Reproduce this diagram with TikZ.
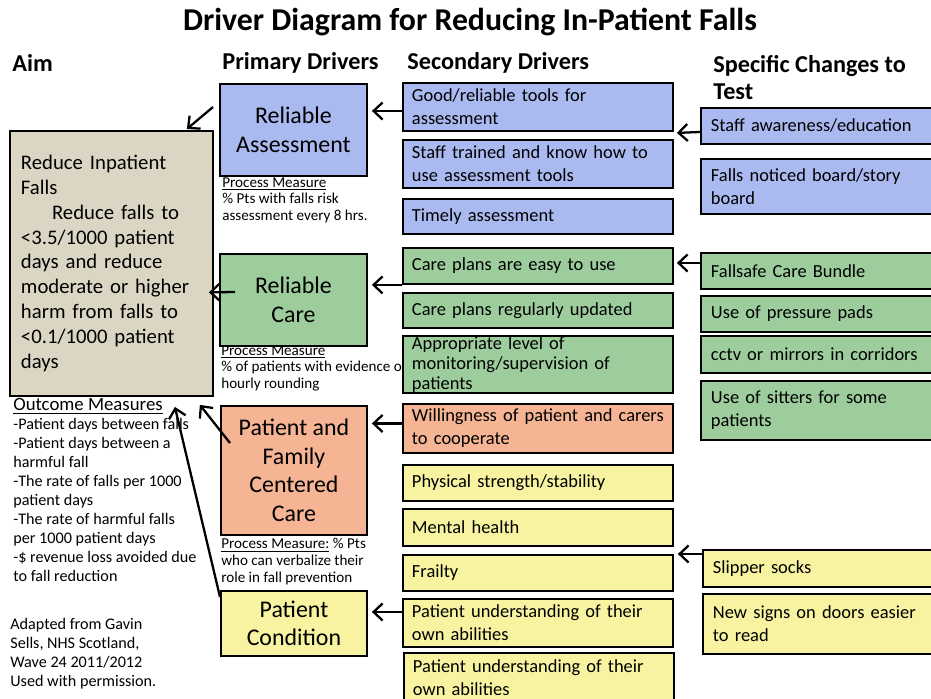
\documentclass[tikz,border=0pt]{standalone}
\usepackage{fontspec}
\setmainfont{Carlito}
\usepackage{tikz}
\usetikzlibrary{arrows.meta, positioning, calc}
\definecolor{fallblue}{RGB}{170,186,240}
\definecolor{fallgreen}{RGB}{157,205,157}
\definecolor{fallorange}{RGB}{245,180,148}
\definecolor{fallyellow}{RGB}{247,243,160}
\definecolor{fallbeige}{RGB}{219,214,196}

\tikzset{
  box/.style={draw, line width=1.1pt, anchor=north west, inner sep=0pt},
  primbox/.style={box, minimum width=2.94cm, align=center, font=\fontsize{13.6}{16.2}\selectfont},
  secbox/.style={box, minimum width=5.4cm, text width=5.04cm, inner xsep=0.18cm, align=left, font=\fontsize{10.5}{13}\selectfont},
  chgbox/.style={box, minimum width=4.8cm, text width=4.4cm, inner xsep=0.2cm, align=left, font=\fontsize{10.5}{13}\selectfont},
  measure/.style={anchor=north west, inner sep=0pt, align=left, font=\fontsize{8.6}{9.6}\selectfont},
  outcome/.style={measure, font=\fontsize{9.2}{10.8}\selectfont},
  head/.style={anchor=west, inner sep=0pt, font=\bfseries\fontsize{13.8}{15.3}\selectfont},
  arr/.style={-{Straight Barb[length=1.8mm,width=3.4mm]}, line width=1.3pt},
}

\begin{document}
\begin{tikzpicture}[x=0.02cm, y=-0.02cm]
\useasboundingbox (0,0) rectangle (931,698);
\clip (0,0) rectangle (931,698);

% Title and column heads
\node[font=\bfseries\fontsize{18.1}{22}\selectfont] (title) at (470,22) {Driver Diagram for Reducing In-Patient Falls};
\node[head] (haim) at (12,63) {Aim};
\node[head] (hprim) at (222,63) {Primary Drivers};
\node[head] (hsec) at (407,63) {Secondary Drivers};
\node[head, anchor=north west, align=left] (hchg) at (713,55) {Specific Changes to\\Test};

% Aim
\node[box, fill=fallbeige, minimum width=4.06cm, minimum height=5.3cm, text width=3.62cm, inner xsep=0.22cm, align=left, font=\fontsize{11.8}{14.2}\selectfont] (aim) at (9,130)
  {Reduce Inpatient\\Falls\\\hspace*{1.5em}Reduce falls to\\<3.5/1000 patient\\days and reduce\\moderate or higher\\harm from falls to\\<0.1/1000 patient\\days};

% Primary drivers
\node[primbox, fill=fallblue, minimum height=1.84cm] (ra) at (219,83) {Reliable\\Assessment};
\node[primbox, fill=fallgreen, minimum height=1.84cm] (rc) at (219,253) {Reliable\\Care};
\node[primbox, fill=fallorange, minimum width=2.92cm, minimum height=2.58cm] (pf) at (220,405) {Patient and\\Family\\Centered\\Care};
\node[primbox, fill=fallyellow, minimum width=2.92cm, minimum height=1.3cm] (pc) at (220,590) {Patient\\Condition};

% Measures
\node[measure] (ram) at (222,177) {\underline{Process Measure}\\\% Pts with falls risk\\assessment every 8 hrs.};
\node[measure] (rcm) at (221,345) {\underline{Process Measure}\\\% of patients with evidence of\\hourly rounding};
\node[measure] (pfm) at (221,538) {\underline{Process Measure:} \% Pts\\who can verbalize their\\role in fall prevention};
\node[outcome] (out) at (13,398)
  {{\fontsize{10.7}{11}\selectfont\underline{Outcome Measures}}\\-Patient days between falls\\-Patient days between a\\harmful fall\\-The rate of falls per 1000\\patient days\\-The rate of harmful falls\\per 1000 patient days\\-\$ revenue loss avoided due\\to fall reduction};
\node[outcome] (src) at (10,618) {Adapted from Gavin\\Sells, NHS Scotland,\\Wave 24 2011/2012\\Used with permission.};

% Secondary drivers
\node[secbox, fill=fallblue, minimum height=0.96cm] (s1) at (402,82) {Good/reliable tools for\\assessment};
\node[secbox, fill=fallblue, minimum height=0.96cm] (s2) at (402,139) {Staff trained and know how to\\use assessment tools};
\node[secbox, fill=fallblue, minimum height=0.7cm] (s3) at (402,198) {Timely assessment};
\node[secbox, fill=fallgreen, minimum height=0.72cm] (s4) at (402,247) {Care plans are easy to use};
\node[secbox, fill=fallgreen, minimum height=0.7cm] (s5) at (402,292) {Care plans regularly updated};
\node[secbox, fill=fallgreen, minimum height=1.14cm] (s6) at (402,335) {};
\node[secbox, draw=none, anchor=center, font=\fontsize{10.5}{11.3}\selectfont] (s6t) at (s6.center) {Appropriate level of\\monitoring/supervision of\\patients};
\node[secbox, fill=fallorange, minimum height=0.98cm] (s7) at (402,403) {Willingness of patient and carers\\to cooperate};
\node[secbox, fill=fallyellow, minimum height=0.72cm] (s8) at (402,464) {Physical strength/stability};
\node[secbox, fill=fallyellow, minimum height=0.74cm] (s9) at (402,508) {Mental health};
\node[secbox, fill=fallyellow, minimum height=0.72cm] (s10) at (402,554) {Frailty};
\node[secbox, fill=fallyellow, minimum height=0.96cm] (s11) at (402,598) {Patient understanding of their\\own abilities};
\node[secbox, fill=fallyellow, minimum height=1.0cm] (s12) at (403,652) {Patient understanding of their\\own abilities};

% Specific changes
\node[chgbox, fill=fallblue, minimum height=0.72cm] (c1) at (700,107) {Staff awareness/education};
\node[chgbox, fill=fallblue, minimum height=1.1cm] (c2) at (700,158) {Falls noticed board/story\\board};
\node[chgbox, fill=fallgreen, minimum height=0.72cm] (c3) at (700,252) {Fallsafe Care Bundle};
\node[chgbox, fill=fallgreen, minimum height=0.72cm] (c4) at (700,295) {Use of pressure pads};
\node[chgbox, fill=fallgreen, minimum height=0.74cm] (c5) at (700,335) {cctv or mirrors in corridors};
\node[chgbox, fill=fallgreen, minimum height=1.18cm] (c6) at (700,380) {Use of sitters for some\\patients};
\node[chgbox, fill=fallyellow, minimum height=0.74cm] (c7) at (702,549) {Slipper socks};
\node[chgbox, fill=fallyellow, minimum height=1.2cm] (c8) at (702,593) {New signs on doors easier\\to read};

% Arrows to the aim
\draw[arr] ($(ra.north west)+(-6,24)$) -- ($(aim.north east)+(-27,-1)$);
\draw[arr] ($(rc.west)+(16,-8)$) -- ($(aim.east)+(-5,29)$);
\draw[arr] ($(pf.north west)+(10,38)$) -- ($(aim.south east)+(-14,8)$);
\draw[arr] ($(pc.north west)+(0,7)$) -- ($(aim.south east)+(-39,10)$);

% Arrows to the primary drivers
\draw[arr] ($(s1.west)+(0,4)$) -- ($(ra.east |- s1.west)+(4,4)$);
\draw[arr] (s4.south west) -- ($(rc.east |- s4.south west)+(4,0)$);
\draw[arr] ($(s7.west)+(0,-5)$) -- ($(pf.east |- s7.west)+(4,-5)$);
\draw[arr] ($(s11.west)+(0,-11)$) -- ($(pc.east |- s11.west)+(4,-11)$);

% Arrows to the secondary drivers
\draw[arr] ($(c1.west)+(0,6)$) -- ($(s1.south east)+(3,1)$);
\draw[arr] ($(c3.west)+(0,-8)$) -- ($(s4.east)+(3,-3)$);
\draw[arr] ($(c7.north west)+(0,5)$) -- ($(s10.north east)+(4,0)$);
\end{tikzpicture}
\end{document}
